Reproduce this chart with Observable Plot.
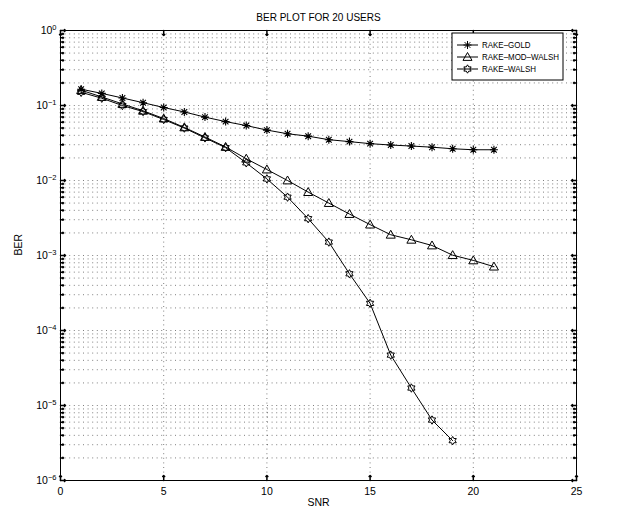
<!DOCTYPE html>
<html>
<head>
<meta charset="utf-8">
<script src="https://cdn.jsdelivr.net/npm/d3@7"></script>
<script src="https://cdn.jsdelivr.net/npm/@observablehq/plot@0.6"></script>
<style>
  html, body { margin: 0; padding: 0; background: white; }
  #chart svg { display: block; }
</style>
</head>
<body>
<div id="chart"></div>
<script>
// ---- data ----
const title = "BER PLOT FOR 20 USERS";
const xLabel = "SNR";
const yLabel = "BER";
const seriesNames = ["RAKE\u2013GOLD", "RAKE\u2013MOD\u2013WALSH", "RAKE\u2013WALSH"];

const snrGold = [1,2,3,4,5,6,7,8,9,10,11,12,13,14,15,16,17,18,19,20,21];
const berGold = [0.165,0.145,0.126,0.109,0.094,0.082,0.070,0.061,0.054,0.047,0.042,0.039,0.035,0.033,0.031,0.0297,0.0288,0.0278,0.0265,0.0257,0.0257];

const snrModWalsh = [1,2,3,4,5,6,7,8,9,10,11,12,13,14,15,16,17,18,19,20,21];
const berModWalsh = [0.16,0.13,0.105,0.085,0.067,0.051,0.038,0.028,0.0195,0.014,0.0100,0.0070,0.0050,0.00357,0.00258,0.00189,0.00162,0.00136,0.00101,0.00086,0.00071];

const snrWalsh = [1,2,3,4,5,6,7,8,9,10,11,12,13,14,15,16,17,18,19];
const berWalsh = [0.15,0.125,0.10,0.083,0.065,0.050,0.037,0.0274,0.0172,0.0105,0.0060,0.0031,0.00151,0.00057,0.00023,0.000047,0.0000171,0.0000064,0.0000034];

const xTicks = [0,5,10,15,20,25];
const yTicks = [1e-6,1e-5,1e-4,1e-3,1e-2,1e-1,1];
const yTickExp = ["\u22126","\u22125","\u22124","\u22123","\u22122","\u22121","0"];

// ---- derived ----
const toRows = (xs, ys) => xs.map((x, i) => ({snr: x, ber: ys[i]}));
const gold = toRows(snrGold, berGold);
const modWalsh = toRows(snrModWalsh, berModWalsh);
const walsh = toRows(snrWalsh, berWalsh);

const yMinor = [];
for (let e = -6; e < 0; e++) for (let m = 2; m <= 9; m++) yMinor.push(m * Math.pow(10, e));
const yGrid = yMinor.concat(yTicks.slice(1, -1));
const xGrid = xTicks.slice(1, -1);

// ---- custom symbols ----
const asterisk = {
  draw(ctx, size) {
    const a = Math.sqrt(size / Math.PI);
    for (let k = 0; k < 4; k++) {
      const t = k * Math.PI / 4;
      const dx = a * Math.cos(t), dy = a * Math.sin(t);
      ctx.moveTo(-dx, -dy); ctx.lineTo(dx, dy);
    }
  }
};
const hexagram = {
  draw(ctx, size) {
    const R = Math.sqrt(size / Math.PI);
    const r = R / Math.sqrt(3);
    for (let k = 0; k < 12; k++) {
      const t = -Math.PI / 2 + k * Math.PI / 6;
      const rr = k % 2 === 0 ? R : r;
      const px = rr * Math.cos(t), py = rr * Math.sin(t);
      if (k === 0) ctx.moveTo(px, py); else ctx.lineTo(px, py);
    }
    ctx.closePath();
  }
};
const triangle = {
  draw(ctx, size) {
    const R = Math.sqrt(size / Math.PI);
    const h = R * 1.05;
    ctx.moveTo(0, -h);
    ctx.lineTo(R * 1.05, h * 0.75);
    ctx.lineTo(-R * 1.05, h * 0.75);
    ctx.closePath();
  }
};

const dotted = {stroke: "#000", strokeOpacity: 0.5, strokeWidth: 1, strokeDasharray: "1,3.6"};
const FONT = "'Liberation Sans', Arial, Helvetica, sans-serif";

const chart = Plot.plot({
  width: 637,
  height: 512,
  marginLeft: 60,
  marginRight: 61,
  marginTop: 30,
  marginBottom: 32,
  style: {fontFamily: FONT, fontSize: "10.5px", background: "white", color: "black"},
  x: {domain: [0, 25], ticks: xTicks, tickSize: 0, tickPadding: 7, label: null},
  y: {type: "log", domain: [1e-6, 1], ticks: yTicks, tickSize: 0, tickPadding: 4,
      tickFormat: d => "10^" + yTickExp[Math.round(Math.log10(d)) + 6], label: null},
  marks: [
    Plot.gridY(yGrid, dotted),
    Plot.gridX(xGrid, dotted),
    // inward tick marks (MATLAB style)
    Plot.vector(yTicks, {x: () => 0, y: d => d, length: 5, rotate: 90, anchor: "start", stroke: "black"}),
    Plot.vector(yTicks, {x: () => 25, y: d => d, length: 5, rotate: -90, anchor: "start", stroke: "black"}),
    Plot.vector(yMinor, {x: () => 0, y: d => d, length: 3, rotate: 90, anchor: "start", stroke: "black"}),
    Plot.vector(yMinor, {x: () => 25, y: d => d, length: 3, rotate: -90, anchor: "start", stroke: "black"}),
    Plot.vector(xTicks, {x: d => d, y: () => 1e-6, length: 5, rotate: 0, anchor: "start", stroke: "black"}),
    Plot.vector(xTicks, {x: d => d, y: () => 1, length: 5, rotate: 180, anchor: "start", stroke: "black"}),
    Plot.frame({stroke: "black", strokeWidth: 1}),
    // series
    Plot.line(gold, {x: "snr", y: "ber", stroke: "black", strokeWidth: 1}),
    Plot.dot(gold, {x: "snr", y: "ber", symbol: asterisk, r: 4, stroke: "black", strokeWidth: 1.1}),
    Plot.line(modWalsh, {x: "snr", y: "ber", stroke: "black", strokeWidth: 1}),
    Plot.dot(modWalsh, {x: "snr", y: "ber", symbol: triangle, r: 4.3, stroke: "black", fill: "none", strokeWidth: 1}),
    Plot.line(walsh, {x: "snr", y: "ber", stroke: "black", strokeWidth: 1}),
    Plot.dot(walsh, {x: "snr", y: "ber", symbol: hexagram, r: 4.2, stroke: "black", fill: "none", strokeWidth: 1}),
    // title and axis labels
    Plot.text([title], {frameAnchor: "top", dy: -17, fontSize: 10}),
    Plot.text([xLabel], {frameAnchor: "bottom", dy: 25, fontSize: 10.5}),
    Plot.text([yLabel], {frameAnchor: "left", dx: -42, rotate: -90, fontSize: 10.5})
  ]
});

document.getElementById("chart").appendChild(chart);

// superscript exponents on y tick labels
const svg = d3.select(chart);
svg.selectAll('g[aria-label="y-axis tick label"] text').each(function () {
  const t = this.textContent.split("^");
  const sel = d3.select(this);
  sel.text(null);
  sel.append("tspan").text(t[0]);
  sel.append("tspan").attr("dy", "-0.5em").attr("font-size", "7.5px").text(t[1]);
});

// legend box
const lx = 452, ly = 33, lw = 111, lh = 47;
const leg = svg.append("g").attr("font-family", FONT).attr("font-size", 9.5).attr("text-anchor", "start");
leg.append("rect").attr("x", lx).attr("y", ly).attr("width", lw).attr("height", lh)
  .attr("fill", "white").attr("stroke", "black").attr("stroke-width", 1);
const legSyms = [
  {sym: asterisk, size: Math.PI * 4 * 4},
  {sym: triangle, size: Math.PI * 4.3 * 4.3},
  {sym: hexagram, size: Math.PI * 4.2 * 4.2}
];
const texts = [];
seriesNames.forEach((name, i) => {
  const y = ly + 12 + i * 12;
  leg.append("line").attr("x1", lx + 5).attr("x2", lx + 26).attr("y1", y).attr("y2", y)
    .attr("stroke", "black").attr("stroke-width", 1);
  leg.append("path").attr("d", d3.symbol(legSyms[i].sym, legSyms[i].size)())
    .attr("transform", `translate(${lx + 15.5},${y})`)
    .attr("fill", "none").attr("stroke", "black").attr("stroke-width", 1);
  texts.push(leg.append("text").attr("x", lx + 30).attr("y", y).attr("dy", "0.36em").text(name));
});
// horizontally condense legend labels so the longest fits the box like the reference
const widths = texts.map(t => t.node().getComputedTextLength());
const maxW = Math.max(...widths);
const target = lw - 30 - 4;
if (maxW > target) {
  texts.forEach((t, i) => t.attr("textLength", widths[i] * target / maxW).attr("lengthAdjust", "spacingAndGlyphs"));
}
</script>
</body>
</html>
